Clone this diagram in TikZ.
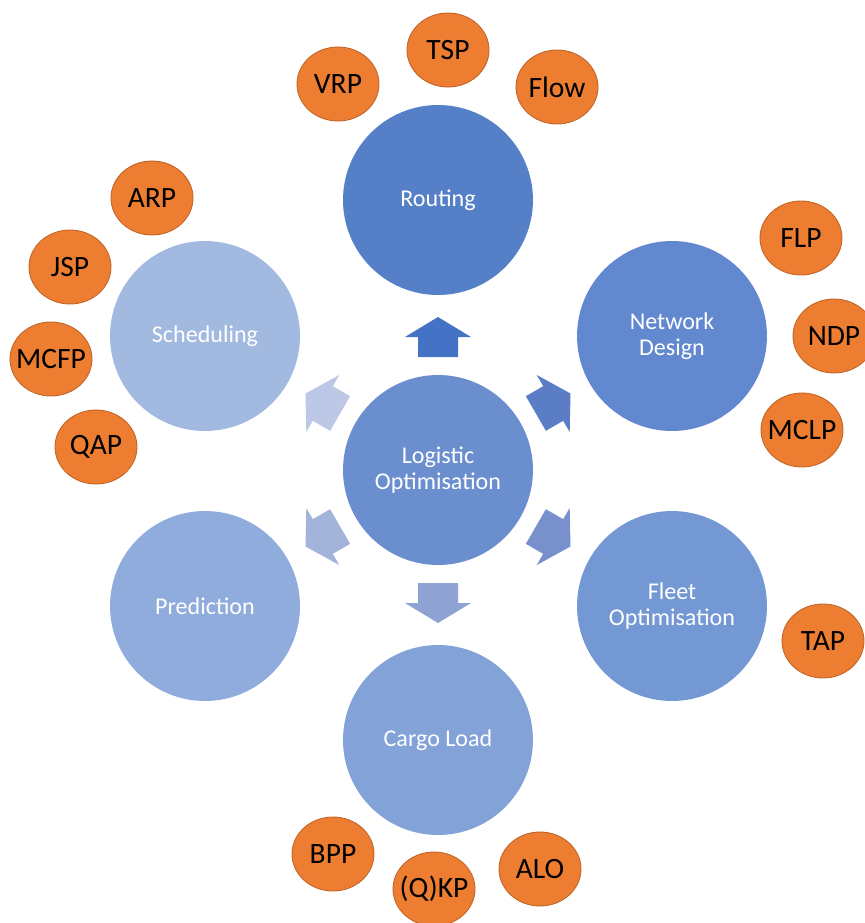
\documentclass[tikz,border=0pt]{standalone}
\usepackage{fontspec}
\setmainfont{Carlito}
\usetikzlibrary{calc}
\usetikzlibrary{shapes}

\definecolor{rtblue}{HTML}{5580C8}
\definecolor{ndblue}{HTML}{6289D0}
\definecolor{loblue}{HTML}{6A8ECE}
\definecolor{foblue}{HTML}{7398D4}
\definecolor{clblue}{HTML}{82A2D8}
\definecolor{prblue}{HTML}{90ACDD}
\definecolor{scblue}{HTML}{A2B9E0}
\definecolor{ar1}{HTML}{4472C4}
\definecolor{ar2}{HTML}{5B7DC6}
\definecolor{ar3}{HTML}{7890CC}
\definecolor{ar4}{HTML}{8FA3D3}
\definecolor{ar5}{HTML}{A4B3DA}
\definecolor{ar6}{HTML}{BCC8E5}
\definecolor{probfill}{HTML}{ED7D31}
\definecolor{probline}{HTML}{C0652A}

\begin{document}
\begin{tikzpicture}[x=0.02cm, y=0.02cm]
                \tikzstyle{area} = [circle, minimum size=3.8cm, inner sep=0pt, text=white, align=center, font=\fontsize{13.7}{14.8}\selectfont]
                \tikzstyle{prob} = [ellipse, minimum width=1.64cm, minimum height=1.48cm, inner xsep=-0.3cm, inner ysep=0pt, fill=probfill, draw=probline, line width=0.5pt, font=\fontsize{16.8}{18}\selectfont]
                \useasboundingbox (0,0) rectangle (865,-923);

                \node [area, fill=loblue](c0) at (438,-470) {Logistic\\Optimisation};
                \node [area, fill=rtblue](c1) at ($(c0)+(0,270)$) {Routing};
                \node [area, fill=ndblue](c2) at (672,-336) {Network\\Design};
                \node [area, fill=foblue](c3) at (672,-606) {Fleet\\Optimisation};
                \node [area, fill=clblue](c4) at ($(c0)+(0,-270)$) {Cargo Load};
                \node [area, fill=prblue](c5) at (205,-606) {Prediction};
                \node [area, fill=scblue](c6) at (205,-336) {Scheduling};

                \foreach \a/\col in {90/ar1, 30/ar2, -30/ar3, -90/ar4, -150/ar5, 150/ar6}{
                        \fill [\col, shift={($(c0)+(\a:133)$)}, rotate=\a]
                                (-20,-20) -- (0,-20) -- (0,-33) -- (20,0) -- (0,33) -- (0,20) -- (-20,20) -- cycle;
                }

                \node [prob](vrp) at (338,-84) {VRP};
                \node [prob](tsp) at (448,-50) {TSP};
                \node [prob](flow) at (557,-87) {Flow};
                \node [prob](flp) at (801,-238) {FLP};
                \node [prob](ndp) at (834,-336) {NDP};
                \node [prob](mclp) at (802,-430) {MCLP};
                \node [prob](tap) at (823,-641) {TAP};
                \node [prob](alo) at (540,-869) {ALO};
                \node [prob](qkp) at (434,-889) {(Q)KP};
                \node [prob](bpp) at (333,-854) {BPP};
                \node [prob](qap) at (96,-447) {QAP};
                \node [prob](mcfp) at (51,-359) {MCFP};
                \node [prob](jsp) at (70,-267) {JSP};
                \node [prob](arp) at (152,-198) {ARP};
\end{tikzpicture}
\end{document}
